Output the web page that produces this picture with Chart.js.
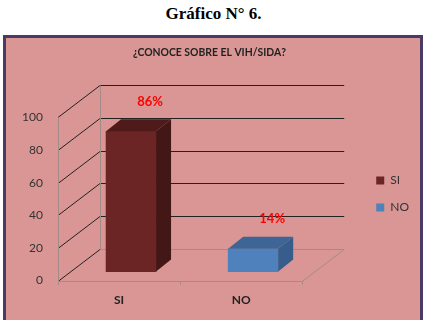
<!DOCTYPE html>
<html>
<head>
<meta charset="utf-8">
<script src="https://cdn.jsdelivr.net/npm/chart.js"></script>
<style>
  body { margin: 0; width: 427px; height: 320px; overflow: hidden; background: #fff; position: relative; }
  #heading { position: absolute; left: 0; top: 4px; width: 427px; text-align: center;
    font: bold 17px "Liberation Serif", "Times New Roman", serif; color: #000; }
  #box { position: absolute; left: 3px; top: 35px; width: 414px; height: 300px;
    border: 3px solid #4a3a66; background: #d99694; }
  #wrap { position: absolute; left: 0; top: 0; width: 427px; height: 320px; }
</style>
<title>Gráfico N° 6</title>
</head>
<body>
<div id="heading">Gráfico N° 6.</div>
<div id="box"></div>
<div id="wrap"><canvas id="myChart" width="427" height="320"></canvas></div>

<script>
const chartTitle = '¿CONOCE SOBRE EL VIH/SIDA?';
const categories = ['SI', 'NO'];
const siValues = [86, null];
const noValues = [null, 14];
const yTicks = [0, 20, 40, 60, 80, 100];

// 3d look: wall depth, bar offset inside the depth, bar own depth
const WALL = {dx: 42, dy: -32};
const BAR_POS = {dx: 12, dy: -9};
const BAR_DEPTH = {dx: 15, dy: -12};

const faceColors = {
  SI: {top: '#4f1b1a', side: '#431716'},
  NO: {top: '#3d6595', side: '#365d8b'}
};

const threeD = {
  id: 'threeD',
  beforeDatasetsDraw(chart) {
    const ctx = chart.ctx;
    const a = chart.chartArea;
    const y = chart.scales.y;
    ctx.save();
    ctx.lineWidth = 1;
    // back wall + left wall lines
    yTicks.forEach(v => {
      const py = Math.round(y.getPixelForValue(v)) + 0.5;
      ctx.strokeStyle = v === 0 ? '#a58a88' : '#222';
      ctx.beginPath();
      ctx.moveTo(a.left + WALL.dx, py + WALL.dy);
      ctx.lineTo(a.right + WALL.dx, py + WALL.dy);
      ctx.stroke();
      ctx.strokeStyle = '#222';
      ctx.beginPath();
      ctx.moveTo(a.left, py);
      ctx.lineTo(a.left + WALL.dx, py + WALL.dy);
      ctx.stroke();
    });
    // floor and vertical edges
    const by = Math.round(y.getPixelForValue(0)) + 0.5;
    const ty = Math.round(y.getPixelForValue(100)) + 0.5;
    ctx.strokeStyle = '#a58a88';
    ctx.beginPath();
    ctx.moveTo(a.left, by);
    ctx.lineTo(a.right, by);
    ctx.lineTo(a.right + WALL.dx, by + WALL.dy);
    ctx.moveTo(a.left + 0.5, ty);
    ctx.lineTo(a.left + 0.5, by);
    ctx.moveTo(a.left + WALL.dx + 0.5, ty + WALL.dy);
    ctx.lineTo(a.left + WALL.dx + 0.5, by + WALL.dy);
    ctx.stroke();
    ctx.restore();

    ctx.save();
    ctx.translate(BAR_POS.dx, BAR_POS.dy);
  },
  afterDatasetsDraw(chart) {
    const ctx = chart.ctx;
    chart.data.datasets.forEach((ds, i) => {
      chart.getDatasetMeta(i).data.forEach((bar, j) => {
        if (ds.data[j] == null) return;
        const x1 = bar.x - bar.width / 2, x2 = bar.x + bar.width / 2;
        const top = bar.y, base = bar.base;
        const fc = faceColors[ds.label];
        ctx.fillStyle = fc.side;
        ctx.beginPath();
        ctx.moveTo(x2, top);
        ctx.lineTo(x2 + BAR_DEPTH.dx, top + BAR_DEPTH.dy);
        ctx.lineTo(x2 + BAR_DEPTH.dx, base + BAR_DEPTH.dy);
        ctx.lineTo(x2, base);
        ctx.closePath();
        ctx.fill();
        ctx.fillStyle = fc.top;
        ctx.beginPath();
        ctx.moveTo(x1, top);
        ctx.lineTo(x2, top);
        ctx.lineTo(x2 + BAR_DEPTH.dx, top + BAR_DEPTH.dy);
        ctx.lineTo(x1 + BAR_DEPTH.dx, top + BAR_DEPTH.dy);
        ctx.closePath();
        ctx.fill();
        // value label
        ctx.fillStyle = '#ff0000';
        ctx.font = 'bold 13px Lato';
        ctx.textAlign = 'center';
        ctx.textBaseline = 'middle';
        ctx.fillText(ds.data[j] + '%', bar.x + 19, top - 30);
      });
    });
    ctx.restore();
  }
};

const ctx = document.getElementById('myChart');
new Chart(ctx, {
  type: 'bar',
  data: {
    labels: categories,
    datasets: [
      {label: 'SI', data: siValues, backgroundColor: '#6b2524', grouped: false, clip: false},
      {label: 'NO', data: noValues, backgroundColor: '#4f81bd', grouped: false, clip: false}
    ]
  },
  options: {
    responsive: false,
    animation: false,
    devicePixelRatio: 1,
    barThickness: 50,
    layout: {padding: {top: 46, right: 8, bottom: 5, left: 0}},
    scales: {
      x: {
        grid: {drawOnChartArea: false, drawTicks: true, tickLength: 4, color: '#a58a88'},
        border: {display: false},
        ticks: {color: '#222', font: {family: 'Lato', size: 12, weight: 'bold'}, padding: 8}
      },
      y: {
        min: 0, max: 100,
        afterFit: s => { s.width = 58; },
        afterBuildTicks: s => { s.ticks = yTicks.map(v => ({value: v})); },
        grid: {display: false, drawTicks: false},
        border: {display: false},
        ticks: {color: '#333', font: {family: 'Lato', size: 12}, padding: 15}
      },
      spacer: {
        position: 'right',
        afterFit: s => { s.width = 59; },
        grid: {display: false},
        border: {display: false},
        ticks: {display: false}
      }
    },
    plugins: {
      title: {
        display: true,
        text: chartTitle,
        color: '#222',
        font: {family: 'Lato', size: 10.4, weight: 'bold'},
        padding: {top: 0, bottom: 59}
      },
      legend: {
        position: 'right',
        fullSize: false,
        align: 'start',
        title: {display: true, text: ' ', font: {size: 10}, padding: {top: 15, bottom: 15}},
        labels: {
          boxWidth: 8, boxHeight: 8, padding: 15,
          color: '#333',
          font: {family: 'Lato', size: 12}
        }
      },
      tooltip: {enabled: false}
    }
  },
  plugins: [threeD]
});
</script>
</body>
</html>
